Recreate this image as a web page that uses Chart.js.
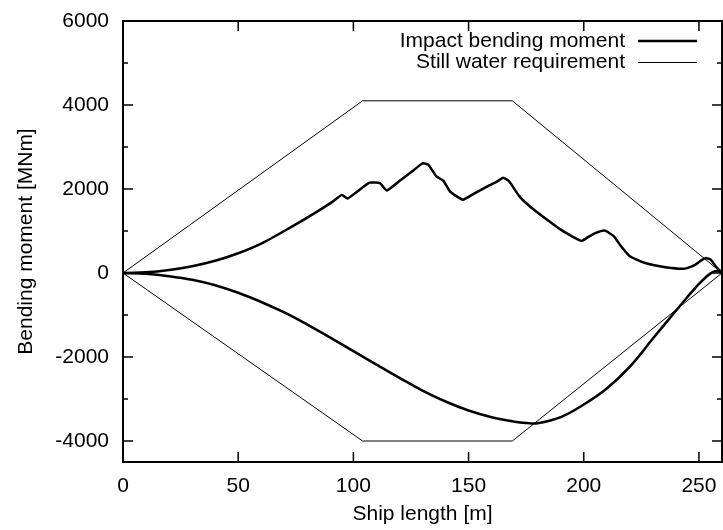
<!DOCTYPE html>
<html>
<head>
<meta charset="utf-8">
<script src="https://cdn.jsdelivr.net/npm/chart.js@4/dist/chart.umd.min.js"></script>
<style>
  html, body { margin: 0; padding: 0; background: #fff; }
  #wrap { width: 723px; height: 530px; }
</style>
</head>
<body>
<div id="wrap"><canvas id="momentChart" width="723" height="530"></canvas></div>
<script>
// hogging envelope (upper, positive)
const hogX = [0, 10, 20, 30, 40, 50, 60, 70, 80, 86, 91, 95, 97.5, 101, 107, 111.5, 114.5, 120, 126, 130, 132.5, 136, 139, 142, 147.5, 153, 159, 163, 165, 167.5, 172, 176.5, 185, 189.5, 194, 199, 202, 205, 209, 213, 216, 220, 226, 233, 238, 243.5, 246, 248.5, 251, 253, 255, 257, 260];
const hogM = [0, 15, 70, 160, 290, 470, 700, 1000, 1320, 1520, 1700, 1860, 1775, 1910, 2150, 2140, 1965, 2190, 2440, 2610, 2580, 2300, 2200, 1940, 1745, 1910, 2085, 2200, 2270, 2190, 1830, 1590, 1230, 1050, 900, 765, 860, 950, 1010, 880, 650, 400, 250, 160, 120, 100, 140, 200, 300, 355, 320, 180, 0];

// sagging envelope (lower, negative)
const sagX = [0, 10, 20, 30, 40, 50, 60, 70, 80, 90, 100, 110, 120, 130, 140, 150, 160, 170, 175, 180, 190, 200, 210, 220, 230, 240, 245, 250, 253, 256, 258, 260];
const sagM = [0, -20, -75, -160, -290, -470, -690, -940, -1230, -1540, -1860, -2180, -2495, -2800, -3060, -3275, -3435, -3540, -3570, -3575, -3430, -3130, -2750, -2230, -1560, -900, -570, -260, -100, 20, 45, 0];

// still water limit polygon
const stillX = [0, 104, 169, 260, 169, 104, 0];
const stillM = [0, 4100, 4100, 0, -4000, -4000, 0];

const xTicks = [0, 50, 100, 150, 200, 250];
const yTicks = [-4000, -2000, 0, 2000, 4000, 6000];
const yMinorTicks = [-3000, -1000, 1000, 3000, 5000];

const legendItems = [
  { text: 'Impact bending moment', width: 2.5 },
  { text: 'Still water requirement', width: 1 }
];

const FONT = '"Liberation Sans", Arial, Helvetica, sans-serif';
Chart.defaults.font.family = FONT;
Chart.defaults.font.size = 21;
Chart.defaults.color = '#000';

const pts = (xs, ys) => xs.map((x, i) => ({ x: x, y: ys[i] }));

// gnuplot-ish frame: box, inward ticks on all sides, legend inside top right
const framePlugin = {
  id: 'frame',
  afterDatasetsDraw(chart) {
    const ctx = chart.ctx;
    const a = chart.chartArea;
    const xs = chart.scales.x, ys = chart.scales.y;
    ctx.save();
    ctx.strokeStyle = '#000';
    ctx.lineWidth = 1.5;
    ctx.beginPath();
    xTicks.forEach(v => {
      const px = xs.getPixelForValue(v);
      ctx.moveTo(px, a.bottom); ctx.lineTo(px, a.bottom - 10);
      ctx.moveTo(px, a.top); ctx.lineTo(px, a.top + 10);
    });
    yTicks.forEach(v => {
      const py = ys.getPixelForValue(v);
      ctx.moveTo(a.left, py); ctx.lineTo(a.left + 10, py);
      ctx.moveTo(a.right, py); ctx.lineTo(a.right - 10, py);
    });
    yMinorTicks.forEach(v => {
      const py = ys.getPixelForValue(v);
      ctx.moveTo(a.left, py); ctx.lineTo(a.left + 5, py);
      ctx.moveTo(a.right, py); ctx.lineTo(a.right - 5, py);
    });
    ctx.stroke();
    ctx.lineWidth = 2;
    ctx.strokeRect(a.left, a.top, a.right - a.left, a.bottom - a.top);

    // legend
    ctx.font = '21px ' + FONT;
    ctx.fillStyle = '#000';
    ctx.textAlign = 'right';
    ctx.textBaseline = 'middle';
    legendItems.forEach((item, i) => {
      const y = 41 + i * 21.5;
      ctx.fillText(item.text, 625, y);
      ctx.lineWidth = item.width;
      ctx.beginPath();
      ctx.moveTo(638, y);
      ctx.lineTo(697, y);
      ctx.stroke();
    });
    ctx.restore();
  }
};

new Chart(document.getElementById('momentChart'), {
  type: 'scatter',
  data: {
    datasets: [
      {
        label: 'Impact bending moment',
        data: pts(hogX, hogM),
        showLine: true,
        borderColor: '#000',
        borderWidth: 2.5,
        pointRadius: 0,
        tension: 0.15
      },
      {
        label: 'Impact bending moment',
        data: pts(sagX, sagM),
        showLine: true,
        borderColor: '#000',
        borderWidth: 2.5,
        pointRadius: 0,
        tension: 0.4
      },
      {
        label: 'Still water requirement',
        data: pts(stillX, stillM),
        showLine: true,
        borderColor: '#000',
        borderWidth: 1,
        pointRadius: 0,
        tension: 0
      }
    ]
  },
  options: {
    responsive: false,
    animation: false,
    devicePixelRatio: 1,
    layout: { padding: { top: 21, right: 1, bottom: 0, left: 0 } },
    plugins: {
      legend: { display: false },
      tooltip: { enabled: false }
    },
    scales: {
      x: {
        type: 'linear',
        min: 0,
        max: 260,
        grid: { display: false },
        border: { display: false },
        afterBuildTicks: s => { s.ticks = xTicks.map(v => ({ value: v })); },
        afterFit: s => { s.height = 68; },
        ticks: { padding: 4, maxRotation: 0, callback: v => String(v) },
        title: { display: true, text: 'Ship length [m]', padding: { top: 0, bottom: 3 } }
      },
      y: {
        min: -4500,
        max: 6000,
        grid: { display: false },
        border: { display: false },
        afterBuildTicks: s => { s.ticks = yTicks.map(v => ({ value: v })); },
        afterFit: s => { s.width = 123; },
        ticks: { padding: 6, callback: v => String(v) },
        title: { display: true, text: 'Bending moment [MNm]', padding: { top: 14, bottom: 0 } }
      }
    }
  },
  plugins: [framePlugin]
});
</script>
</body>
</html>
